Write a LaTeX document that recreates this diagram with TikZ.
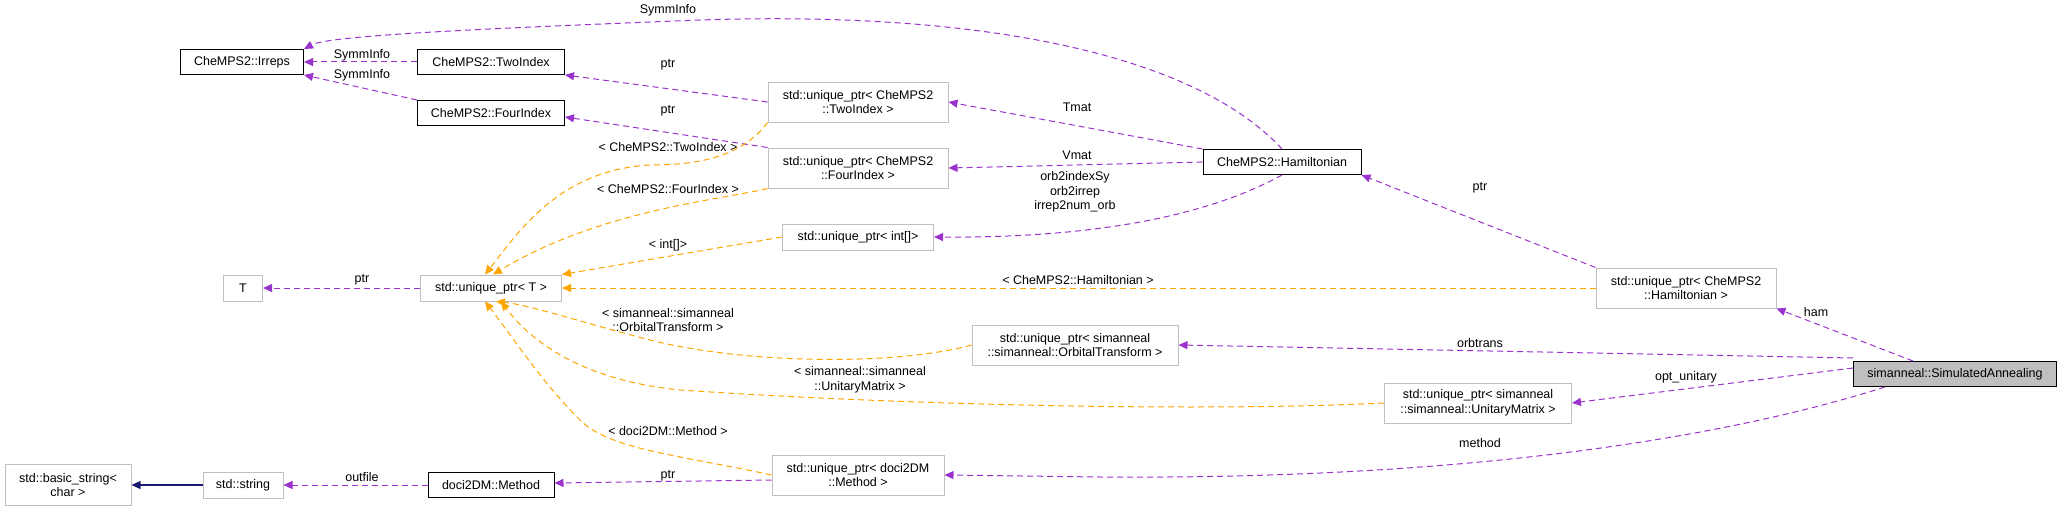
\documentclass[tikz,border=0pt]{standalone}
\usepackage{fontspec}
\setmainfont{Liberation Sans}
\usetikzlibrary{arrows.meta}
\definecolor{pur}{HTML}{9A32CD}
\definecolor{org}{HTML}{FFA500}
\definecolor{nav}{HTML}{191970}
\definecolor{gb}{HTML}{BFBFBF}
\begin{document}
\begin{tikzpicture}[x=1pt,y=-1pt,
  every node/.style={font=\fontsize{12.5}{14.5}\selectfont, inner sep=0pt},
  doc/.style={draw=black, line width=1pt, fill=white, align=center},
  und/.style={draw=gb, line width=1pt, fill=white, align=center},
  lbl/.style={align=center},
  pe/.style={draw=pur, dashed, line width=1pt, dash pattern=on 6pt off 4pt, -{Triangle[length=9pt,width=8pt]}},
  oe/.style={draw=org, dashed, line width=1pt, dash pattern=on 6pt off 4pt, -{Triangle[length=9pt,width=8pt]}},
  ne/.style={draw=nav, line width=1.2pt, -{Triangle[length=9pt,width=8pt]}}]
\useasboundingbox (0,0) rectangle (2063,511);
% nodes
\node[doc, minimum width=123pt, minimum height=25pt] (irreps) at (242,62) {CheMPS2::Irreps};
\node[doc, minimum width=147pt, minimum height=25pt] (two) at (491,62) {CheMPS2::TwoIndex};
\node[doc, minimum width=147pt, minimum height=25pt] (four) at (491,113) {CheMPS2::FourIndex};
\node[und, minimum width=180pt, minimum height=40pt] (utwo) at (858,102) {std::unique\_ptr< CheMPS2\\::TwoIndex >};
\node[und, minimum width=180pt, minimum height=40pt] (ufour) at (858,168) {std::unique\_ptr< CheMPS2\\::FourIndex >};
\node[und, minimum width=151pt, minimum height=26pt] (uint) at (858,237) {std::unique\_ptr< int[]>};
\node[und, minimum width=39pt, minimum height=26pt] (T) at (243,288) {T};
\node[und, minimum width=141pt, minimum height=26pt] (uT) at (491,288) {std::unique\_ptr< T >};
\node[und, minimum width=126pt, minimum height=41pt] (bs) at (68,485) {std::basic\_string<\\char >};
\node[und, minimum width=80pt, minimum height=26pt] (str) at (243,485) {std::string};
\node[doc, minimum width=126pt, minimum height=25pt] (meth) at (491,485) {doci2DM::Method};
\node[und, minimum width=172pt, minimum height=40pt] (udoci) at (858,475) {std::unique\_ptr< doci2DM\\::Method >};
\node[und, minimum width=206pt, minimum height=40pt] (uorb) at (1075,345) {std::unique\_ptr< simanneal\\::simanneal::OrbitalTransform >};
\node[doc, minimum width=158pt, minimum height=25pt] (ham) at (1282,162) {CheMPS2::Hamiltonian};
\node[und, minimum width=180pt, minimum height=40pt] (uham) at (1686,288) {std::unique\_ptr< CheMPS2\\::Hamiltonian >};
\node[und, minimum width=187pt, minimum height=40pt] (uum) at (1478,403) {std::unique\_ptr< simanneal\\::simanneal::UnitaryMatrix >};
\node[doc, fill=gb, minimum width=203pt, minimum height=25pt] (sa) at (1955,374) {simanneal::SimulatedAnnealing};
% labels
\node[lbl] (l1) at (668,10) {SymmInfo};
\node[lbl] (l2) at (362,55) {SymmInfo};
\node[lbl] (l3) at (362,75) {SymmInfo};
\node[lbl] (l4) at (668,65) {ptr};
\node[lbl] (l5) at (668,111) {ptr};
\node[lbl] (l6) at (1077,107) {Tmat};
\node[lbl] (l7) at (1077,155) {Vmat};
\node[lbl] (l8) at (1075,192) {orb2indexSy\\orb2irrep\\irrep2num\_orb};
\node[lbl] (l9) at (668,147) {< CheMPS2::TwoIndex >};
\node[lbl] (l10) at (668,189) {< CheMPS2::FourIndex >};
\node[lbl] (l11) at (668,245) {< int[]>};
\node[lbl] (l12) at (1078,280) {< CheMPS2::Hamiltonian >};
\node[lbl] (l13) at (668,320) {< simanneal::simanneal\\::OrbitalTransform >};
\node[lbl] (l14) at (860,380) {< simanneal::simanneal\\::UnitaryMatrix >};
\node[lbl] (l15) at (668,431) {< doci2DM::Method >};
\node[lbl] (l16) at (362,280) {ptr};
\node[lbl] (l17) at (362,477) {outfile};
\node[lbl] (l18) at (668,476) {ptr};
\node[lbl] (l19) at (1816,312) {ham};
\node[lbl] (l20) at (1480,343) {orbtrans};
\node[lbl] (l21) at (1686,377) {opt\_unitary};
\node[lbl] (l22) at (1480,443) {method};
\node[lbl] (l23) at (1480,188) {ptr};
% edges
\draw[pe] (ham.north) .. controls (1200,60) and (1000,10) .. (700,20) .. controls (500,28) and (330,35) .. (irreps.north east);
\draw[pe] (two.west) -- (irreps.east);
\draw[pe] (four.north west) -- (irreps.south east);
\draw[pe] (utwo.west) -- (two.south east);
\draw[pe] (ufour.north west) -- ([yshift=-4pt]four.east);
\draw[pe] (ham.north west) -- (utwo.east);
\draw[pe] (ham.west) -- (ufour.east);
\draw[pe] (ham.south) .. controls (1200,220) and (1080,238) .. (uint.east);
\draw[pe] (uham.north west) -- (ham.south east);
\draw[oe] (utwo.south west) .. controls (740,160) and (690,165) .. (650,165) .. controls (560,170) and (520,230) .. ([xshift=-6pt]uT.north);
\draw[oe] (ufour.south west) .. controls (720,200) and (600,210) .. ([xshift=2pt]uT.north);
\draw[oe] (uint.west) -- (uT.north east);
\draw[oe] (uham.west) -- (uT.east);
\draw[oe] (uorb.west) .. controls (900,365) and (750,365) .. (650,340) .. controls (580,322) and (530,305) .. ([xshift=5pt]uT.south);
\draw[oe] (uum.west) .. controls (1200,412) and (900,405) .. (680,390) .. controls (580,380) and (530,340) .. ([xshift=10pt]uT.south);
\draw[oe] (udoci.west) .. controls (680,455) and (610,450) .. (580,420) .. controls (540,380) and (515,340) .. ([xshift=-6pt]uT.south);
\draw[pe] (uT.west) -- (T.east);
\draw[pe] (meth.west) -- (str.east);
\draw[ne] (str.west) -- (bs.east);
\draw[pe] ([yshift=-5pt]udoci.west) -- ([yshift=2pt]meth.east);
\draw[pe] (sa.north west) ++(60,0) -- (uham.south east);
\draw[pe] ([yshift=3pt]sa.north west) -- (uorb.east);
\draw[pe] ([yshift=6pt]sa.west) -- (uum.east);
\draw[pe] ([xshift=-70pt]sa.south) .. controls (1750,430) and (1500,480) .. (1100,477) -- (udoci.east);
\end{tikzpicture}
\end{document}
